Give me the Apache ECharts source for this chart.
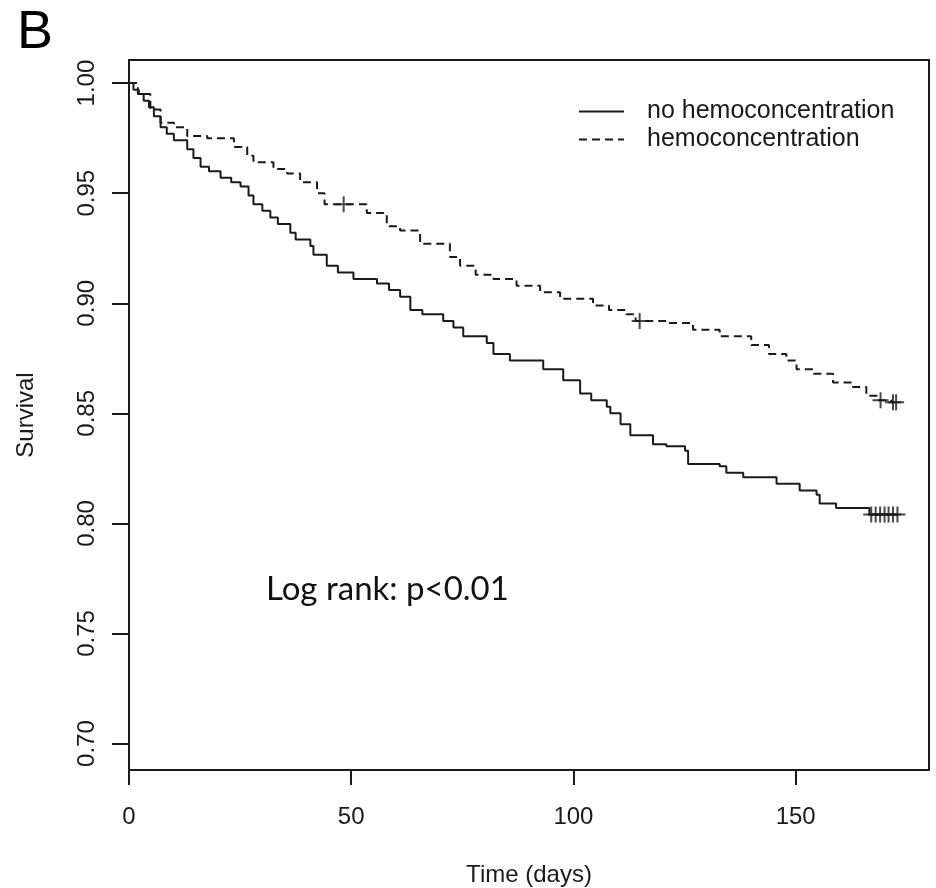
<!DOCTYPE html>
<html>
<head>
<meta charset="utf-8">
<script src="https://cdn.jsdelivr.net/npm/echarts@6/dist/echarts.min.js"></script>
<style>
  html, body { margin: 0; padding: 0; background: #fff; }
  #main { width: 936px; height: 888px; }
</style>
</head>
<body>
<div id="main"></div>
<script>
// survival step points
var noHemoTime = [0, 1.0, 2.2, 3.3, 4.5, 5.6, 7.1, 8.5, 10.1, 13.1, 14.5, 16.1, 18, 20.6, 23, 25.1, 26.9, 28.0, 30, 31.8, 33.5, 36.3, 37.5, 40.8, 41.5, 44.5, 47, 50.5, 55.8, 58.5, 61.0, 63.3, 66, 70.7, 73, 75.2, 80.5, 82.0, 85.7, 93.2, 97.7, 101.5, 104, 107.5, 108.3, 110.6, 112.8, 117.9, 120.9, 125.1, 125.8, 132.9, 134.4, 138.2, 145.7, 150.9, 154.7, 155.4, 159.1, 166.6, 173];
var noHemoSurv = [1.000, 0.997, 0.995, 0.992, 0.989, 0.985, 0.980, 0.977, 0.974, 0.970, 0.966, 0.962, 0.960, 0.957, 0.955, 0.953, 0.949, 0.945, 0.942, 0.939, 0.936, 0.932, 0.929, 0.926, 0.922, 0.917, 0.914, 0.911, 0.909, 0.906, 0.903, 0.897, 0.895, 0.892, 0.889, 0.885, 0.882, 0.877, 0.874, 0.870, 0.865, 0.859, 0.856, 0.853, 0.850, 0.845, 0.840, 0.836, 0.835, 0.833, 0.827, 0.826, 0.823, 0.821, 0.818, 0.815, 0.813, 0.809, 0.807, 0.804, 0.804];

var hemoTime = [0, 2, 4.8, 7.1, 10.1, 13.1, 17.6, 23.6, 26.6, 28.0, 32.5, 35.6, 38.5, 42.3, 44, 53.5, 58, 61, 65.5, 72.2, 74.5, 78, 82, 87.2, 92.5, 97, 104.4, 108, 111.9, 114, 121, 126.9, 132.9, 140, 144, 147.9, 150.2, 153.9, 158.4, 162.9, 165.9, 168.5, 171.5, 173];
var hemoSurv = [1.000, 0.995, 0.988, 0.982, 0.980, 0.976, 0.975, 0.971, 0.967, 0.964, 0.961, 0.959, 0.955, 0.950, 0.945, 0.941, 0.935, 0.933, 0.927, 0.921, 0.917, 0.913, 0.911, 0.908, 0.905, 0.902, 0.899, 0.897, 0.895, 0.892, 0.891, 0.888, 0.885, 0.881, 0.877, 0.874, 0.870, 0.868, 0.864, 0.862, 0.858, 0.856, 0.855, 0.855];

// censoring marks (+)
var noHemoCensTime = [167.0, 168.0, 169.0, 170.0, 170.9, 171.9, 172.9];
var noHemoCensSurv = [0.804, 0.804, 0.804, 0.804, 0.804, 0.804, 0.804];
var hemoCensTime = [48.3, 114.9, 169.1, 171.9, 172.6];
var hemoCensSurv = [0.945, 0.892, 0.856, 0.855, 0.855];

var xTicks = [0, 50, 100, 150];
var yTicks = [0.70, 0.75, 0.80, 0.85, 0.90, 0.95, 1.00];

function pairs(xs, ys) {
  return xs.map(function (x, i) { return [x, ys[i]]; });
}

var chart = echarts.init(document.getElementById('main'));
var ink = '#1a1a1a';
var font = 'Liberation Sans, Arial, sans-serif';
var plus = 'path://M0,-8L0,8M-8,0L8,0';

var option = {
  animation: false,
  backgroundColor: '#fff',
  grid: {
    left: 129, right: 7, top: 60, bottom: 118,
    outerBoundsMode: 'none', containLabel: false,
    show: true, borderColor: ink, borderWidth: 2, backgroundColor: 'transparent'
  },
  legend: {
    orient: 'vertical',
    left: 578, top: 99, padding: 0,
    itemWidth: 45, itemHeight: 14, itemGap: 3,
    selectedMode: false,
    itemStyle: { opacity: 0 },
    textStyle: { fontFamily: font, fontSize: 25, color: ink, padding: [0, 0, 0, 18] },
    data: ['no hemoconcentration', 'hemoconcentration']
  },
  xAxis: {
    type: 'value', min: 0, max: 180,
    name: 'Time (days)', nameLocation: 'middle', nameGap: 93,
    nameTextStyle: { fontFamily: font, fontSize: 24, color: ink },
    axisLine: { show: false },
    axisTick: { show: true, length: 15, customValues: xTicks, lineStyle: { color: ink, width: 2 } },
    axisLabel: { margin: 35, fontFamily: font, fontSize: 24, color: ink, customValues: xTicks },
    splitLine: { show: false }
  },
  yAxis: {
    type: 'value', min: 0.688, max: 1.0105,
    name: 'Survival', nameLocation: 'middle', nameGap: 91,
    nameTextStyle: { fontFamily: font, fontSize: 24, color: ink },
    axisLine: { show: false },
    axisTick: { show: true, length: 17, customValues: yTicks, lineStyle: { color: ink, width: 2 } },
    axisLabel: {
      rotate: 90, margin: 30, fontFamily: font, fontSize: 24, color: ink,
      customValues: yTicks,
      formatter: function (v) { return v.toFixed(2); }
    },
    splitLine: { show: false }
  },
  graphic: [
    { type: 'text', left: 17, top: 6, style: { text: 'B', fontFamily: font, fontSize: 54, fill: '#000' } },
    { type: 'text', left: 266, top: 573, style: { text: 'Log rank: p<0.01', fontFamily: 'Lato, Open Sans, sans-serif', fontSize: 33, fill: '#111' } }
  ],
  series: [
    {
      name: 'no hemoconcentration', type: 'line', step: 'end', symbol: 'none',
      lineStyle: { color: ink, width: 2 }, itemStyle: { color: ink },
      data: pairs(noHemoTime, noHemoSurv)
    },
    {
      name: 'hemoconcentration', type: 'line', step: 'end', symbol: 'none',
      lineStyle: { color: ink, width: 2, type: [8, 5] }, itemStyle: { color: ink },
      data: pairs(hemoTime, hemoSurv)
    },
    {
      type: 'scatter', symbol: plus, symbolSize: 16,
      itemStyle: { color: 'none', borderColor: ink, borderWidth: 2 },
      data: pairs(noHemoCensTime, noHemoCensSurv)
    },
    {
      type: 'scatter', symbol: plus, symbolSize: 16,
      itemStyle: { color: 'none', borderColor: ink, borderWidth: 2 },
      data: pairs(hemoCensTime, hemoCensSurv)
    }
  ]
};

chart.setOption(option);
</script>
</body>
</html>
